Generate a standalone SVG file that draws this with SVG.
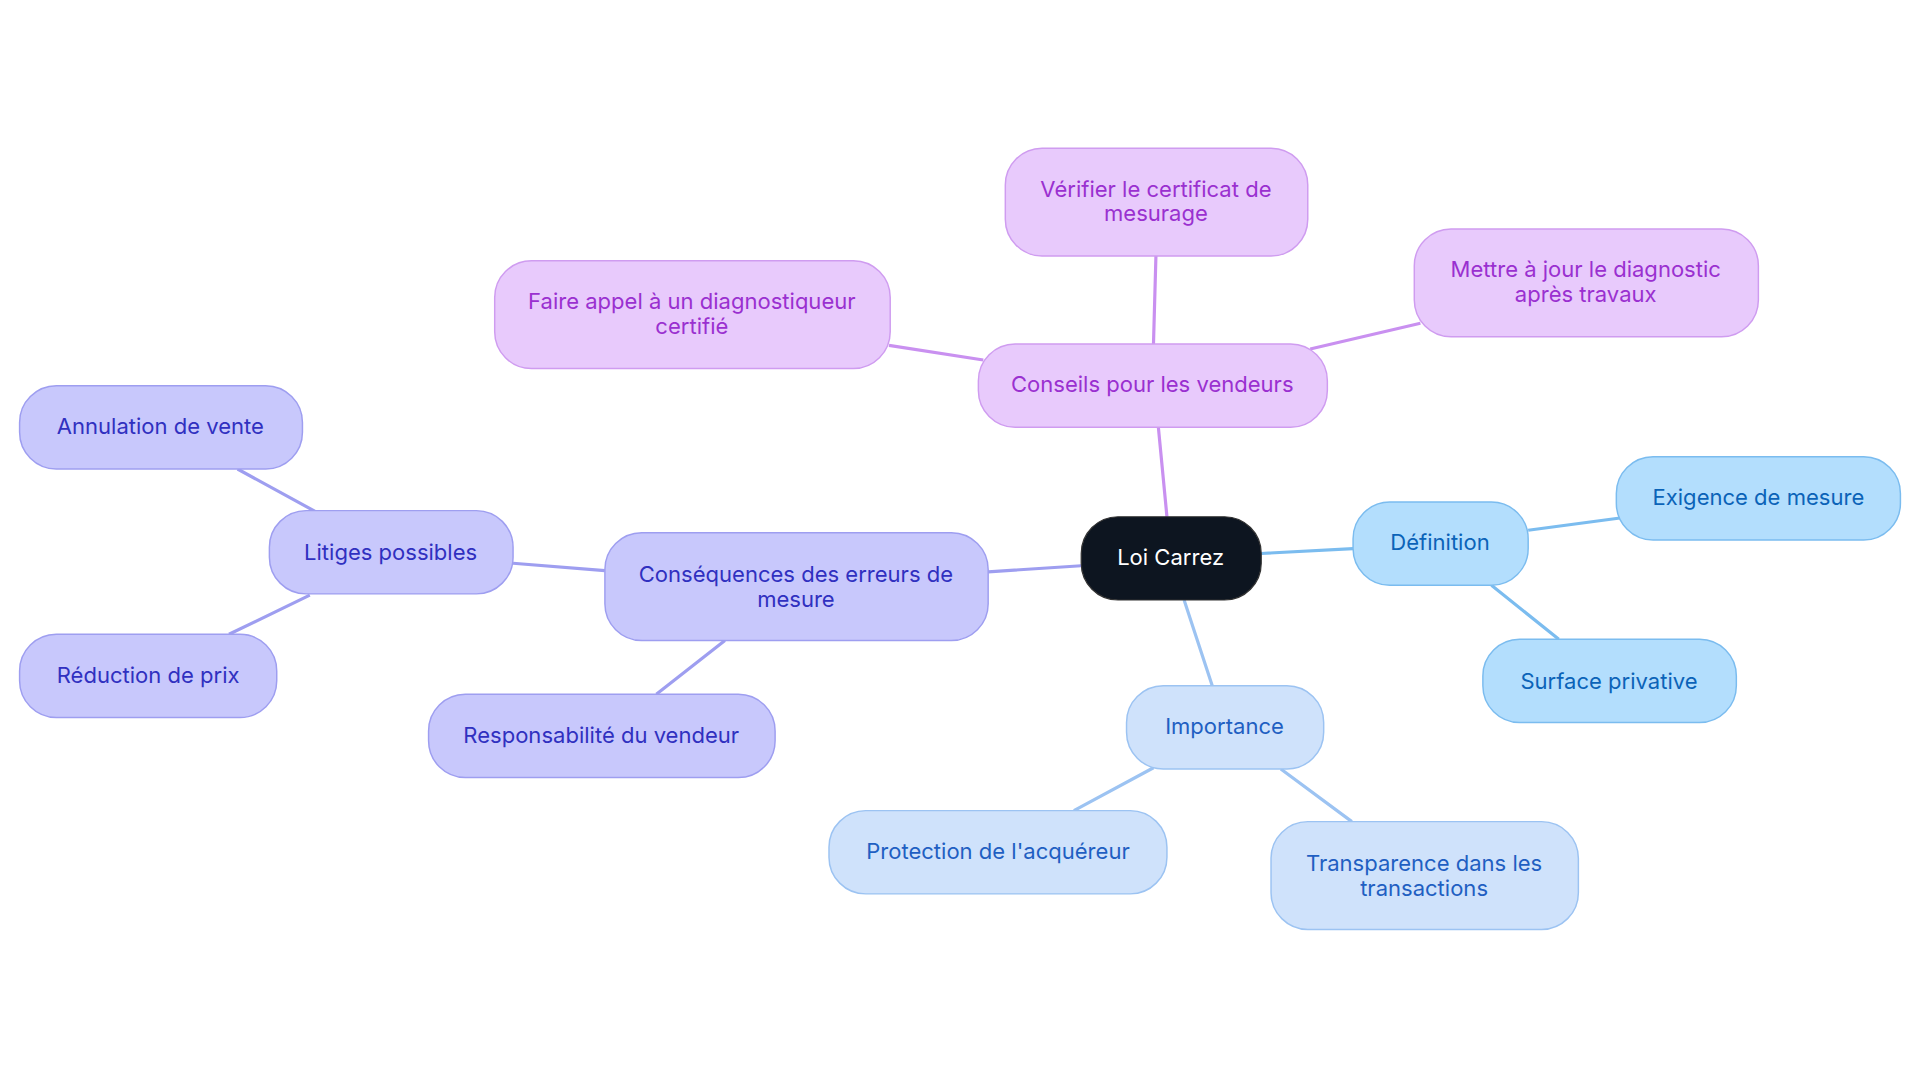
<svg xmlns="http://www.w3.org/2000/svg" width="1920" height="1083" viewBox="0 0 1920 1083">
<style>
text{font-family:Inter,"Open Sans","Liberation Sans",sans-serif;font-size:18px;text-anchor:middle;dominant-baseline:central}
.e{fill:none;stroke-width:2.6}
.r{stroke-width:1.2}
.a rect{fill:#b3defd;stroke:#7bbcef}.a text{fill:#0b63b8}
.b rect{fill:#cfe2fb;stroke:#9cc3f2}.b text{fill:#1f5fc2}
.c rect{fill:#c8c8fc;stroke:#9e9ef0}.c text{fill:#3030c0}
.d rect{fill:#e8cafc;stroke:#cf9cf0}.d text{fill:#9a30d0}
</style>
<rect width="1920" height="1083" fill="#fff"/>
<g transform="scale(1.2245)">
<g id="connectors" class="e">
<path d="M1030 452L1105 448M1248 433L1323 423M1218 478L1273 522" stroke="#7bbcef" class="e"/>
<path d="M967 490L990 560M942 627L877 662M1046 628L1104 671" stroke="#9cc3f2" class="e"/>
<path d="M883 462L807 467M494 466L419 460M258 418L194 383M253 486L187 518M592 523L536 567" stroke="#9e9ef0" class="e"/>
<path d="M953 422L946 349M942 281L944 209M803 294L726 282M1070 285L1160 264" stroke="#c990f0" class="e"/>
</g>
<g id="root"><rect x="883" y="422" width="147" height="68" rx="30" fill="#0d1520" stroke="#333"/><text x="956" y="455" fill="#fff">Loi Carrez</text></g>
<g id="definition" class="a"><rect class="r" x="1105" y="410" width="143" height="68" rx="30"/><text x="1176" y="443">Définition</text></g>
<g id="exigence" class="a"><rect class="r" x="1320" y="373" width="232" height="68" rx="30"/><text x="1436" y="406">Exigence de mesure</text></g>
<g id="surface" class="a"><rect class="r" x="1211" y="522" width="207" height="68" rx="30"/><text x="1314" y="556">Surface privative</text></g>
<g id="importance" class="b"><rect class="r" x="920" y="560" width="161" height="68" rx="30"/><text x="1000" y="593">Importance</text></g>
<g id="protection" class="b"><rect class="r" x="677" y="662" width="276" height="68" rx="30"/><text x="815" y="695">Protection de l'acquéreur</text></g>
<g id="transparence" class="b"><rect class="r" x="1038" y="671" width="251" height="88" rx="30"/><text x="1163" y="705">Transparence dans les</text><text x="1163" y="725">transactions</text></g>
<g id="consequences" class="c"><rect class="r" x="494" y="435" width="313" height="88" rx="30"/><text x="650" y="469">Conséquences des erreurs de</text><text x="650" y="489">mesure</text></g>
<g id="litiges" class="c"><rect class="r" x="220" y="417" width="199" height="68" rx="30"/><text x="319" y="451">Litiges possibles</text></g>
<g id="annulation" class="c"><rect class="r" x="16" y="315" width="231" height="68" rx="30"/><text x="131" y="348">Annulation de vente</text></g>
<g id="reduction" class="c"><rect class="r" x="16" y="518" width="210" height="68" rx="30"/><text x="121" y="551">Réduction de prix</text></g>
<g id="responsabilite" class="c"><rect class="r" x="350" y="567" width="283" height="68" rx="30"/><text x="491" y="600">Responsabilité du vendeur</text></g>
<g id="conseils" class="d"><rect class="r" x="799" y="281" width="285" height="68" rx="30"/><text x="941" y="314">Conseils pour les vendeurs</text></g>
<g id="verifier" class="d"><rect class="r" x="821" y="121" width="247" height="88" rx="30"/><text x="944" y="154">Vérifier le certificat de</text><text x="944" y="174">mesurage</text></g>
<g id="faire" class="d"><rect class="r" x="404" y="213" width="323" height="88" rx="30"/><text x="565" y="246">Faire appel à un diagnostiqueur</text><text x="565" y="266">certifié</text></g>
<g id="mettre" class="d"><rect class="r" x="1155" y="187" width="281" height="88" rx="30"/><text x="1295" y="220">Mettre à jour le diagnostic</text><text x="1295" y="240">après travaux</text></g>
</g>
</svg>
